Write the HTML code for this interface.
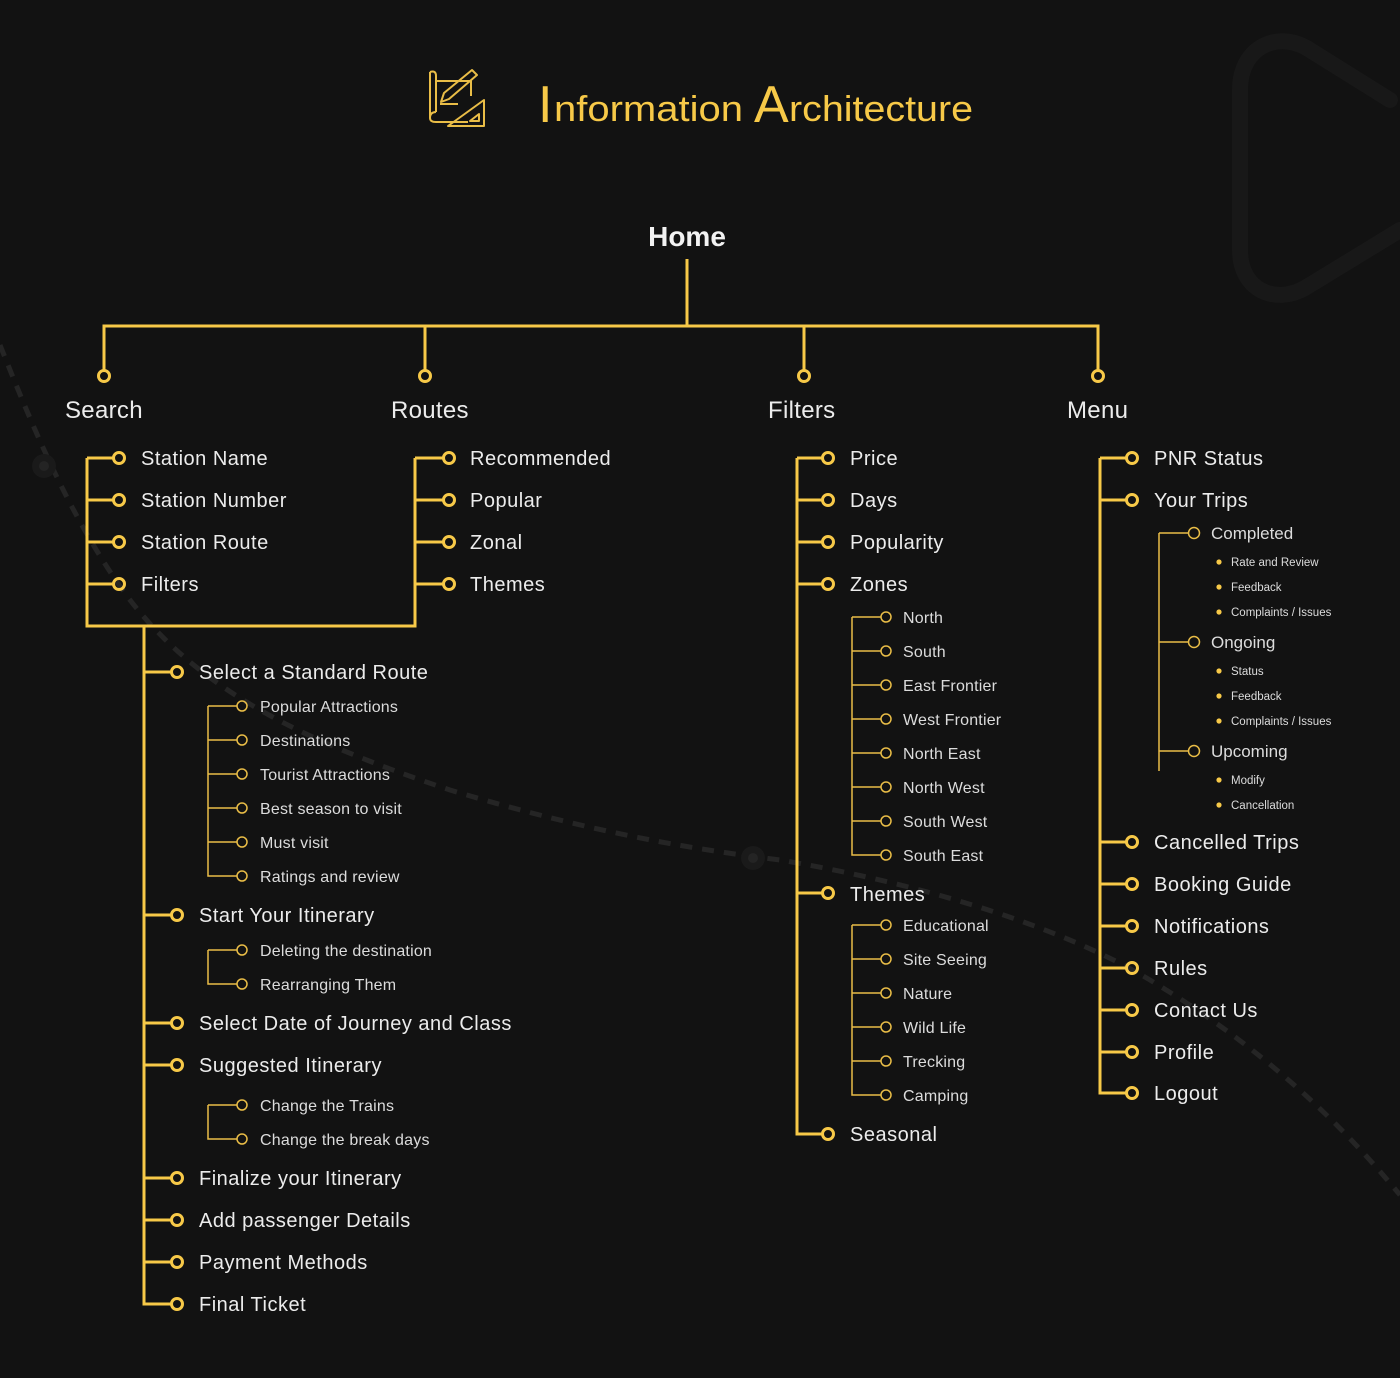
<!DOCTYPE html>
<html><head><meta charset="utf-8"><style>
html,body{margin:0;padding:0;background:#121212;}
svg{display:block;}
text{font-family:"Liberation Sans","DejaVu Sans",sans-serif;fill:#ececec;}
.m{font-size:20px;letter-spacing:0.5px;}
.s{font-size:16px;fill:#dcdcdc;letter-spacing:0.2px;}
.b{font-size:11.5px;fill:#dcdcdc;}
.h{font-size:24px;letter-spacing:0.3px;}
.T{stroke:#f7c948;stroke-width:3;fill:none;}
.t{stroke:#e9bd47;stroke-width:1.5;fill:none;}
</style></head><body>
<svg width="1400" height="1378" viewBox="0 0 1400 1378" xmlns="http://www.w3.org/2000/svg">
<rect width="1400" height="1378" fill="#121212"/>
<!-- background decorations -->
<path d="M0 345 C30 420 70 520 130 600 C200 690 300 740 450 790 C600 835 700 850 780 860 C900 880 1050 920 1150 980 C1250 1040 1330 1110 1400 1195" stroke="#252525" stroke-width="5" fill="none" stroke-dasharray="12 10"/>
<circle cx="44" cy="466" r="12" fill="#1a1a1a"/><circle cx="44" cy="466" r="5" fill="#242424"/>
<circle cx="753" cy="858" r="12" fill="#1a1a1a"/><circle cx="753" cy="858" r="5" fill="#242424"/>
<path d="M1390 100 L1310 50 C1280 30 1240 45 1240 90 L1240 250 C1240 290 1275 305 1305 288 L1400 230" stroke="#181818" stroke-width="16" fill="none" stroke-linecap="round"/>
<!-- icon -->
<g stroke="#e9bd47" stroke-width="2" fill="none" stroke-linejoin="round">
<path d="M430 72 L430 118 Q430 122 436 122 L468 122"/>
<path d="M430 72 Q436 70 436 76 L436 112"/>
<path d="M436 81 L471 81 L471 96"/>
<path d="M436 112 Q430 112 430 118"/>
<path d="M440 104 L458 104"/>
<path d="M441 102 L444 93 L472 70 L477 75 L449 99 Z"/>
<path d="M448 126 L484 100 L484 126 Z"/>
<path d="M470 121 L479 114 L479 121 Z"/>
</g>
<!-- title -->
<text x="538" y="122" style="font-size:52px;fill:#f7c948;">I</text>
<text x="554" y="121" textLength="189" lengthAdjust="spacingAndGlyphs" style="font-size:36px;fill:#f7c948;">nformation</text>
<text x="754" y="122" style="font-size:52px;fill:#f7c948;">A</text>
<text x="789" y="121" textLength="184" lengthAdjust="spacingAndGlyphs" style="font-size:36px;fill:#f7c948;">rchitecture</text>
<!-- home -->
<text x="687" y="246" text-anchor="middle" style="font-size:28px;font-weight:bold;fill:#f2f2f2;">Home</text>
<path class="T" d="M687 259 V326 M104 370 V326 H1098 V370 M425 326 V370 M804 326 V370"/>
<g class="T"><circle cx="104" cy="376" r="5.5"/><circle cx="425" cy="376" r="5.5"/><circle cx="804" cy="376" r="5.5"/><circle cx="1098" cy="376" r="5.5"/></g>
<text class="h" x="65" y="418">Search</text>
<text class="h" x="391" y="418">Routes</text>
<text class="h" x="768" y="418">Filters</text>
<text class="h" x="1067" y="418">Menu</text>
<!-- Search box -->
<path class="T" d="M87 458 V626 H415 V458 M87 458 H113 M87 500 H113 M87 542 H113 M87 584 H113 M415 458 H443 M415 500 H443 M415 542 H443 M415 584 H443"/>
<g class="T"><circle cx="119" cy="458" r="5.5"/><circle cx="119" cy="500" r="5.5"/><circle cx="119" cy="542" r="5.5"/><circle cx="119" cy="584" r="5.5"/>
<circle cx="449" cy="458" r="5.5"/><circle cx="449" cy="500" r="5.5"/><circle cx="449" cy="542" r="5.5"/><circle cx="449" cy="584" r="5.5"/></g>
<text class="m" x="141" y="465">Station Name</text>
<text class="m" x="141" y="507">Station Number</text>
<text class="m" x="141" y="549">Station Route</text>
<text class="m" x="141" y="591">Filters</text>
<text class="m" x="470" y="465">Recommended</text>
<text class="m" x="470" y="507">Popular</text>
<text class="m" x="470" y="549">Zonal</text>
<text class="m" x="470" y="591">Themes</text>
<!-- search chain -->
<path class="T" d="M144 626 V1304 H171 M144 672 H171 M144 915 H171 M144 1023 H171 M144 1065 H171 M144 1178 H171 M144 1220 H171 M144 1262 H171"/>
<g class="T"><circle cx="177" cy="672" r="5.5"/><circle cx="177" cy="915" r="5.5"/><circle cx="177" cy="1023" r="5.5"/><circle cx="177" cy="1065" r="5.5"/><circle cx="177" cy="1178" r="5.5"/><circle cx="177" cy="1220" r="5.5"/><circle cx="177" cy="1262" r="5.5"/><circle cx="177" cy="1304" r="5.5"/></g>
<text class="m" x="199" y="679">Select a Standard Route</text>
<text class="m" x="199" y="922">Start Your Itinerary</text>
<text class="m" x="199" y="1030">Select Date of Journey and Class</text>
<text class="m" x="199" y="1072">Suggested Itinerary</text>
<text class="m" x="199" y="1185">Finalize your Itinerary</text>
<text class="m" x="199" y="1227">Add passenger Details</text>
<text class="m" x="199" y="1269">Payment Methods</text>
<text class="m" x="199" y="1311">Final Ticket</text>
<path class="t" d="M208 706 V876 H237 M208 706 H237 M208 740 H237 M208 774 H237 M208 808 H237 M208 842 H237 M208 950 V984 H237 M208 950 H237 M208 1105 V1139 H237 M208 1105 H237"/>
<g class="t"><circle cx="242" cy="706" r="5"/><circle cx="242" cy="740" r="5"/><circle cx="242" cy="774" r="5"/><circle cx="242" cy="808" r="5"/><circle cx="242" cy="842" r="5"/><circle cx="242" cy="876" r="5"/><circle cx="242" cy="950" r="5"/><circle cx="242" cy="984" r="5"/><circle cx="242" cy="1105" r="5"/><circle cx="242" cy="1139" r="5"/></g>
<text class="s" x="260" y="712">Popular Attractions</text>
<text class="s" x="260" y="746">Destinations</text>
<text class="s" x="260" y="780">Tourist Attractions</text>
<text class="s" x="260" y="814">Best season to visit</text>
<text class="s" x="260" y="848">Must visit</text>
<text class="s" x="260" y="882">Ratings and review</text>
<text class="s" x="260" y="956">Deleting the destination</text>
<text class="s" x="260" y="990">Rearranging Them</text>
<text class="s" x="260" y="1111">Change the Trains</text>
<text class="s" x="260" y="1145">Change the break days</text>
<!-- Filters -->
<path class="T" d="M797 458 V1134 H822 M797 458 H822 M797 500 H822 M797 542 H822 M797 584 H822 M797 893 H822"/>
<g class="T"><circle cx="828" cy="458" r="5.5"/><circle cx="828" cy="500" r="5.5"/><circle cx="828" cy="542" r="5.5"/><circle cx="828" cy="584" r="5.5"/><circle cx="828" cy="893" r="5.5"/><circle cx="828" cy="1134" r="5.5"/></g>
<text class="m" x="850" y="465">Price</text>
<text class="m" x="850" y="507">Days</text>
<text class="m" x="850" y="549">Popularity</text>
<text class="m" x="850" y="591">Zones</text>
<text class="m" x="850" y="901">Themes</text>
<text class="m" x="850" y="1141">Seasonal</text>
<path class="t" d="M852 617 V855 H881 M852 617 H881 M852 651 H881 M852 685 H881 M852 719 H881 M852 753 H881 M852 787 H881 M852 821 H881 M852 925 V1095 H881 M852 925 H881 M852 959 H881 M852 993 H881 M852 1027 H881 M852 1061 H881"/>
<g class="t"><circle cx="886" cy="617" r="5"/><circle cx="886" cy="651" r="5"/><circle cx="886" cy="685" r="5"/><circle cx="886" cy="719" r="5"/><circle cx="886" cy="753" r="5"/><circle cx="886" cy="787" r="5"/><circle cx="886" cy="821" r="5"/><circle cx="886" cy="855" r="5"/>
<circle cx="886" cy="925" r="5"/><circle cx="886" cy="959" r="5"/><circle cx="886" cy="993" r="5"/><circle cx="886" cy="1027" r="5"/><circle cx="886" cy="1061" r="5"/><circle cx="886" cy="1095" r="5"/></g>
<text class="s" x="903" y="623">North</text>
<text class="s" x="903" y="657">South</text>
<text class="s" x="903" y="691">East Frontier</text>
<text class="s" x="903" y="725">West Frontier</text>
<text class="s" x="903" y="759">North East</text>
<text class="s" x="903" y="793">North West</text>
<text class="s" x="903" y="827">South West</text>
<text class="s" x="903" y="861">South East</text>
<text class="s" x="903" y="931">Educational</text>
<text class="s" x="903" y="965">Site Seeing</text>
<text class="s" x="903" y="999">Nature</text>
<text class="s" x="903" y="1033">Wild Life</text>
<text class="s" x="903" y="1067">Trecking</text>
<text class="s" x="903" y="1101">Camping</text>
<!-- Menu -->
<path class="T" d="M1100 458 V1093 H1126 M1100 458 H1126 M1100 500 H1126 M1100 842 H1126 M1100 884 H1126 M1100 926 H1126 M1100 968 H1126 M1100 1010 H1126 M1100 1052 H1126"/>
<g class="T"><circle cx="1132" cy="458" r="5.5"/><circle cx="1132" cy="500" r="5.5"/><circle cx="1132" cy="842" r="5.5"/><circle cx="1132" cy="884" r="5.5"/><circle cx="1132" cy="926" r="5.5"/><circle cx="1132" cy="968" r="5.5"/><circle cx="1132" cy="1010" r="5.5"/><circle cx="1132" cy="1052" r="5.5"/><circle cx="1132" cy="1093" r="5.5"/></g>
<text class="m" x="1154" y="465">PNR Status</text>
<text class="m" x="1154" y="507">Your Trips</text>
<text class="m" x="1154" y="849">Cancelled Trips</text>
<text class="m" x="1154" y="891">Booking Guide</text>
<text class="m" x="1154" y="933">Notifications</text>
<text class="m" x="1154" y="975">Rules</text>
<text class="m" x="1154" y="1017">Contact Us</text>
<text class="m" x="1154" y="1059">Profile</text>
<text class="m" x="1154" y="1100">Logout</text>
<path class="t" d="M1159 533 V771 M1159 533 H1188 M1159 642 H1188 M1159 751 H1188"/>
<g class="t"><circle cx="1194" cy="533" r="5.5"/><circle cx="1194" cy="642" r="5.5"/><circle cx="1194" cy="751" r="5.5"/></g>
<text x="1211" y="539" style="font-size:17px;fill:#dcdcdc;">Completed</text>
<text x="1211" y="648" style="font-size:17px;fill:#dcdcdc;">Ongoing</text>
<text x="1211" y="757" style="font-size:17px;fill:#dcdcdc;">Upcoming</text>
<g fill="#f7c948"><circle cx="1219" cy="562" r="2.6"/><circle cx="1219" cy="587" r="2.6"/><circle cx="1219" cy="612" r="2.6"/><circle cx="1219" cy="671" r="2.6"/><circle cx="1219" cy="696" r="2.6"/><circle cx="1219" cy="721" r="2.6"/><circle cx="1219" cy="780" r="2.6"/><circle cx="1219" cy="805" r="2.6"/></g>
<text class="b" x="1231" y="566">Rate and Review</text>
<text class="b" x="1231" y="591">Feedback</text>
<text class="b" x="1231" y="616">Complaints / Issues</text>
<text class="b" x="1231" y="675">Status</text>
<text class="b" x="1231" y="700">Feedback</text>
<text class="b" x="1231" y="725">Complaints / Issues</text>
<text class="b" x="1231" y="784">Modify</text>
<text class="b" x="1231" y="809">Cancellation</text>
</svg>
</body></html>
